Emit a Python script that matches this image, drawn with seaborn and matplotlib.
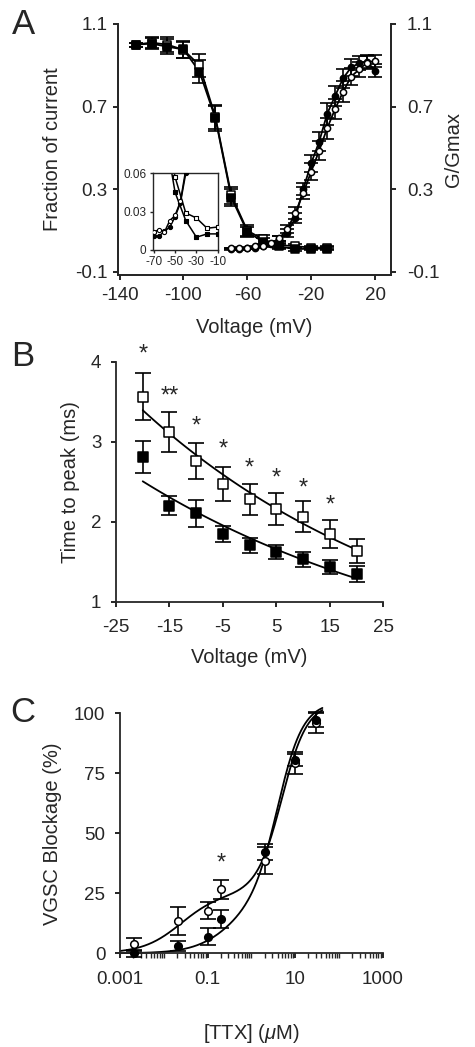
import numpy as np
import matplotlib
matplotlib.use('Agg')
import matplotlib.pyplot as plt
import matplotlib.ticker as mticker
import seaborn as sns

sns.set_style('ticks')
plt.rcParams['font.family'] = ['Liberation Sans', 'DejaVu Sans']
plt.rcParams['axes.unicode_minus'] = False
plt.rcParams['axes.linewidth'] = 1.3
plt.rcParams['mathtext.fontset'] = 'custom'
plt.rcParams['mathtext.it'] = 'Liberation Sans:italic'
plt.rcParams['mathtext.rm'] = 'Liberation Sans'

# ---- panel A: inactivation (squares) and activation (circles)
volt_inact = [-130, -120, -110, -100, -90, -80, -70, -60, -50, -40, -30, -20, -10]
inact_filled = [1.0, 1.005, 0.99, 0.977, 0.87, 0.644, 0.26, 0.094, 0.045, 0.023, 0.010, 0.0126, 0.0126]
inact_open = [1.0, 1.01, 1.0, 0.975, 0.9, 0.65, 0.27, 0.10, 0.057, 0.029, 0.025, 0.017, 0.018]
inact_err = [0.01, 0.025, 0.035, 0.04, 0.055, 0.06, 0.04, 0.025, 0.02, 0.012, 0.008, 0.008, 0.008]

volt_act = [-70, -65, -60, -55, -50, -45, -40, -35, -30, -25, -20, -15, -10, -5, 0, 5, 10, 15, 20]
act_filled = [0.011, 0.011, 0.0145, 0.018, 0.026, 0.037, 0.06, 0.09, 0.16, 0.30, 0.426, 0.53,
              0.665, 0.752, 0.837, 0.89, 0.91, 0.918, 0.874]
act_open = [0.014, 0.016, 0.014, 0.023, 0.027, 0.038, 0.063, 0.106, 0.184, 0.281, 0.385, 0.487,
            0.595, 0.689, 0.772, 0.845, 0.88, 0.913, 0.922]
act_err_filled = [0.003, 0.003, 0.003, 0.003, 0.004, 0.008, 0.012, 0.02, 0.025, 0.03, 0.04, 0.045,
                  0.055, 0.05, 0.045, 0.04, 0.035, 0.03, 0.03]
act_err_open = [0.003, 0.003, 0.003, 0.003, 0.004, 0.008, 0.012, 0.02, 0.03, 0.03, 0.04, 0.045,
                0.05, 0.05, 0.05, 0.04, 0.035, 0.03, 0.03]

# ---- panel B: time to peak
volt_b = [-20, -15, -10, -5, 0, 5, 10, 15, 20]
ttp_open = [3.563, 3.126, 2.76, 2.473, 2.28, 2.16, 2.065, 1.85, 1.636]
ttp_open_err = [0.29, 0.25, 0.22, 0.21, 0.19, 0.2, 0.19, 0.17, 0.15]
ttp_filled = [2.806, 2.2, 2.107, 1.85, 1.707, 1.624, 1.532, 1.44, 1.35]
ttp_filled_err = [0.2, 0.12, 0.17, 0.1, 0.09, 0.09, 0.09, 0.09, 0.1]
stars_b = ['*', '**', '*', '*', '*', '*', '*', '*']
stars_b_y = [4.09, 3.56, 3.19, 2.90, 2.67, 2.54, 2.42, 2.21]

# ---- panel C: TTX dose response
ttx = [0.0021, 0.0208, 0.1, 0.2, 2.05, 10.0, 30.2]
block_open = [3.75, 13.6, 17.8, 26.7, 38.6, 79.2, 96.1]
block_open_err = [2.8, 5.8, 3.7, 3.9, 5.6, 4.6, 4.4]
block_filled = [0.0, 3.1, 6.9, 14.2, 42.1, 80.6, 97.2]
block_filled_err = [1.5, 2.2, 3.5, 3.8, 3.3, 2.5, 2.8]
# two-site fit parameters (fraction, IC50 high, IC50 low, Hill slope low)
fit_open = (0.25, 0.025, 5.0, 1.5)
fit_filled = (0.20, 0.30, 4.0, 1.5)

W, H = 475, 1047
fig = plt.figure(figsize=(W / 100, H / 100), dpi=100)


def box(l, t, r, b):
    return [l / W, 1 - b / H, (r - l) / W, (b - t) / H]


def points(ax, x, y, err, marker, filled, s, cap, lw=1.2):
    ax.errorbar(x, y, yerr=err, fmt='none', ecolor='black', elinewidth=lw,
                capsize=cap, capthick=lw, zorder=3, clip_on=False)
    sns.scatterplot(x=x, y=y, ax=ax, marker=marker, s=s,
                    color='black' if filled else 'white', edgecolor='black',
                    linewidth=1.1, zorder=4, clip_on=False)


def line(ax, x, y, lw=1.3, clip=True):
    sns.lineplot(x=x, y=y, ax=ax, color='black', lw=lw, sort=False,
                 estimator=None, zorder=2, clip_on=clip)


def style(ax, xpad, ypad):
    ax.tick_params(direction='out', length=3.5, width=1.2, labelsize=13.5, color='black')
    ax.tick_params(axis='x', pad=xpad)
    ax.tick_params(axis='y', pad=ypad)


# ================= A
axA = fig.add_axes(box(118, 24, 391, 275))
axA.set_xlim(-141, 30)
axA.set_ylim(-0.115, 1.1)
line(axA, volt_inact, inact_open)
line(axA, volt_inact, inact_filled)
line(axA, volt_act, act_open)
line(axA, volt_act, act_filled)
points(axA, volt_inact, inact_open, inact_err, 's', False, 30, 5)
points(axA, volt_inact, inact_filled, inact_err, 's', True, 30, 5)
points(axA, volt_act, act_filled, act_err_filled, 'o', True, 20, 5)
points(axA, volt_act, act_open, act_err_open, 'o', False, 20, 5)
axA.set_xticks([-140, -100, -60, -20, 20])
axA.set_yticks([1.1, 0.7, 0.3, -0.1])
axA.set_yticklabels(['1.1', '0.7', '0.3', '-0.1'])
sns.despine(ax=axA, right=False)
style(axA, 5, 4)
axA.set_xlabel('Voltage (mV)', fontsize=14.5)
axA.xaxis.set_label_coords(0.5, -0.17)
axA.set_ylabel('Fraction of current', fontsize=14.5)
axA.yaxis.set_label_coords(-0.205, 0.5)

axA2 = axA.twinx()
axA2.set_ylim(-0.115, 1.1)
axA2.set_yticks([1.1, 0.7, 0.3, -0.1])
axA2.set_yticklabels(['1.1', '0.7', '0.3', '-0.1'])
axA2.spines['top'].set_visible(False)
style(axA2, 5, 8)
axA2.set_ylabel('G/Gmax', fontsize=14.5)
axA2.yaxis.set_label_coords(1.195, 0.5)

# inset
axI = fig.add_axes(box(152.7, 173.3, 218.3, 250))
axI.set_xlim(-71, -9.5)
axI.set_ylim(0, 0.06)
line(axI, volt_inact, inact_open, lw=1.1)
line(axI, volt_inact, inact_filled, lw=1.1)
line(axI, volt_act, act_open, lw=1.1)
line(axI, volt_act, act_filled, lw=1.1)
for x, y, m, f in [(volt_inact, inact_open, 's', False), (volt_inact, inact_filled, 's', True),
                   (volt_act, act_filled, 'o', True), (volt_act, act_open, 'o', False)]:
    sns.scatterplot(x=x, y=y, ax=axI, marker=m, s=9, color='black' if f else 'white',
                    edgecolor='black', linewidth=0.8, zorder=4)
axI.set_xticks([-70, -50, -30, -10])
axI.set_yticks([0, 0.03, 0.06])
axI.set_yticklabels(['0', '0.03', '0.06'])
axI.tick_params(direction='out', length=2.5, width=1, labelsize=8.5, pad=2)
for sp in axI.spines.values():
    sp.set_linewidth(1)

# ================= B
axB = fig.add_axes(box(116, 361.7, 383.3, 602))
axB.set_xlim(-25, 25)
axB.set_ylim(1, 4)
vb = np.linspace(-20, 20, 100)
for yv in (ttp_open, ttp_filled):
    k, c = np.polyfit(volt_b, np.log(yv), 1)
    line(axB, vb, np.exp(c + k * vb))
points(axB, volt_b, ttp_open, ttp_open_err, 's', False, 42, 6)
points(axB, volt_b, ttp_filled, ttp_filled_err, 's', True, 42, 6)
for x, s, y in zip(volt_b, stars_b, stars_b_y):
    axB.text(x, y, s, ha='center', va='center', fontsize=17, clip_on=False)
axB.set_xticks([-25, -15, -5, 5, 15, 25])
axB.set_yticks([1, 2, 3, 4])
sns.despine(ax=axB)
style(axB, 9, 7)
axB.set_xlabel('Voltage (mV)', fontsize=14.5)
axB.xaxis.set_label_coords(0.5, -0.19)
axB.set_ylabel('Time to peak (ms)', fontsize=14.5)
axB.yaxis.set_label_coords(-0.135, 0.5)

# ================= C
axC = fig.add_axes(box(120, 713.3, 382.7, 953.3))
axC.set_xscale('log')
axC.set_xlim(0.001, 1000)
axC.set_ylim(0, 100)
xc = np.logspace(-3, np.log10(42), 200)
for f, ic1, ic2, n2 in (fit_open, fit_filled):
    yc = 100 * f / (1 + ic1 / xc) + 100 * (1 - f) / (1 + (ic2 / xc) ** n2) * 1.06
    line(axC, xc, yc, clip=False)
points(axC, ttx, block_open, block_open_err, 'o', False, 30, 5.5)
points(axC, ttx, block_filled, block_filled_err, 'o', True, 30, 5.5)
axC.text(0.2, 37.5, '*', ha='center', va='center', fontsize=17)
axC.xaxis.set_major_locator(mticker.FixedLocator([0.001, 0.1, 10, 1000]))
axC.xaxis.set_major_formatter(mticker.FixedFormatter(['0.001', '0.1', '10', '1000']))
axC.xaxis.set_minor_locator(mticker.LogLocator(base=10, subs=np.arange(1, 10), numticks=20))
axC.xaxis.set_minor_formatter(mticker.NullFormatter())
axC.set_yticks([0, 25, 50, 75, 100])
sns.despine(ax=axC)
style(axC, 9, 7)
axC.tick_params(axis='x', which='minor', direction='out', length=3.5, width=1.0)
axC.set_xlabel(r'[TTX] ($\mathit{\mu}$M)', fontsize=14.5)
axC.xaxis.set_label_coords(0.5, -0.285)
axC.set_ylabel('VGSC Blockage (%)', fontsize=14.5)
axC.yaxis.set_label_coords(-0.222, 0.5)

# panel letters
for lab, yy in [('A', 25), ('B', 357), ('C', 712)]:
    fig.text(23 / W, 1 - yy / H, lab, ha='center', va='center', fontsize=25)

fig.savefig('out.png', dpi=100, facecolor='white')
